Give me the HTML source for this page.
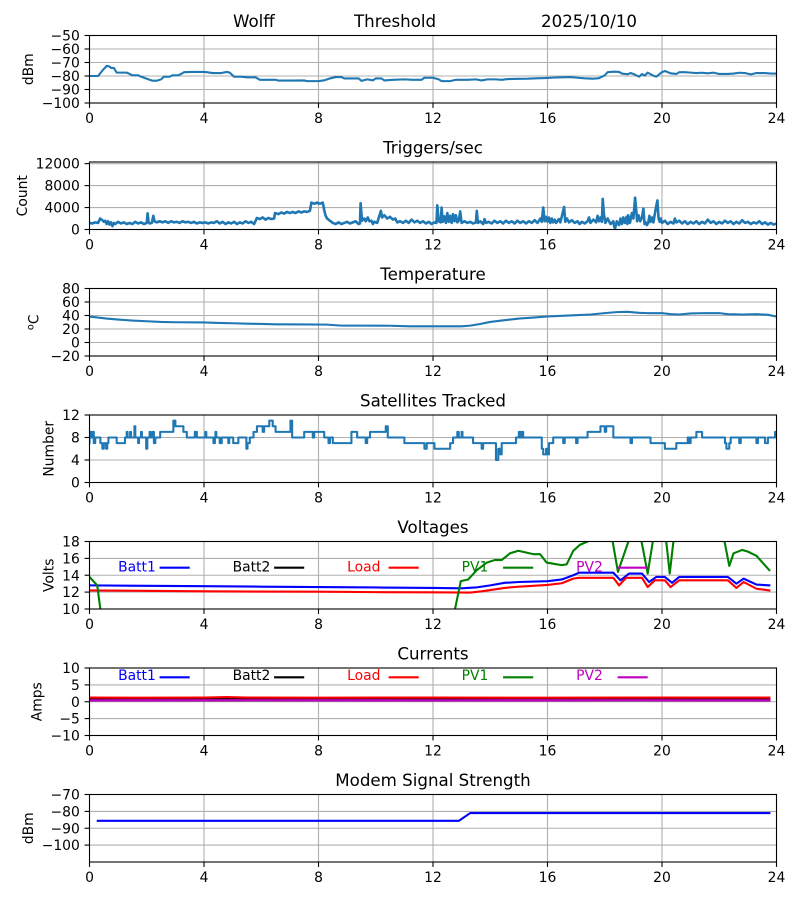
<!DOCTYPE html>
<html><head><meta charset="utf-8">
<style>
html,body{margin:0;padding:0;background:#fff;}
svg{display:block;}
text{font-family:"DejaVu Sans","Liberation Sans",sans-serif;font-size:13.89px;fill:#000;}
.t{font-size:16.67px;}
.g{stroke:#b0b0b0;stroke-width:1.1;fill:none;}
.sp{stroke:#000;stroke-width:1.1;fill:none;}
.tk{stroke:#000;stroke-width:1.1;}
.d{fill:none;stroke-linejoin:round;stroke-linecap:square;vector-effect:non-scaling-stroke;}
.yl{text-anchor:end;}
.xl{text-anchor:middle;}
</style></head><body>
<svg width="800" height="900" viewBox="0 0 800 900" xmlns="http://www.w3.org/2000/svg">
<defs>
<clipPath id="c1"><rect x="89.5" y="35.5" width="687" height="67.5"/></clipPath>
<clipPath id="c2"><rect x="89.5" y="162" width="687" height="67.5"/></clipPath>
<clipPath id="c3"><rect x="89.5" y="288.5" width="687" height="67.5"/></clipPath>
<clipPath id="c4"><rect x="89.5" y="415" width="687" height="67.5"/></clipPath>
<clipPath id="c5"><rect x="89.5" y="541.5" width="687" height="67.5"/></clipPath>
<clipPath id="c6"><rect x="89.5" y="668" width="687" height="67.5"/></clipPath>
<clipPath id="c7"><rect x="89.5" y="794.5" width="687" height="67.5"/></clipPath>
<g id="vg">
<line class="g" x1="204" y1="0" x2="204" y2="67.5"/>
<line class="g" x1="318.5" y1="0" x2="318.5" y2="67.5"/>
<line class="g" x1="433" y1="0" x2="433" y2="67.5"/>
<line class="g" x1="547.5" y1="0" x2="547.5" y2="67.5"/>
<line class="g" x1="662" y1="0" x2="662" y2="67.5"/>
</g>
<g id="xt">
<line class="tk" x1="89.5" y1="0" x2="89.5" y2="4.9"/>
<line class="tk" x1="204" y1="0" x2="204" y2="4.9"/>
<line class="tk" x1="318.5" y1="0" x2="318.5" y2="4.9"/>
<line class="tk" x1="433" y1="0" x2="433" y2="4.9"/>
<line class="tk" x1="547.5" y1="0" x2="547.5" y2="4.9"/>
<line class="tk" x1="662" y1="0" x2="662" y2="4.9"/>
<line class="tk" x1="776.5" y1="0" x2="776.5" y2="4.9"/>
</g>
</defs>

<!-- ===== Panel 1 ===== -->
<text class="t" x="233" y="27.2">Wolff</text>
<text class="t" x="354" y="27.2">Threshold</text>
<text class="t" x="541" y="27.2">2025/10/10</text>
<use href="#vg" y="35.5"/>
<line class="g" x1="89.5" y1="49" x2="776.5" y2="49"/>
<line class="g" x1="89.5" y1="62.5" x2="776.5" y2="62.5"/>
<line class="g" x1="89.5" y1="76" x2="776.5" y2="76"/>
<line class="g" x1="89.5" y1="89.5" x2="776.5" y2="89.5"/>
<g clip-path="url(#c1)"><g transform="translate(89.5,103) scale(28.625,-1.35) translate(0,100)">
<polyline class="d" stroke="#1f77b4" stroke-width="2.1" points="0,-80 0.3,-80 0.45,-76 0.6,-72.5 0.7,-73 0.75,-74 0.85,-74 0.95,-77.5 1.1,-77.5 1.3,-77.5 1.4,-78.5 1.5,-79.5 1.7,-79.5 1.8,-80.5 2.0,-82 2.2,-83.5 2.35,-83.5 2.5,-82.5 2.6,-80.5 2.8,-80.5 2.9,-79.5 3.1,-79.5 3.2,-78.5 3.3,-77.2 3.6,-77 4.0,-77 4.1,-77.2 4.3,-77.8 4.6,-77.8 4.8,-77 4.9,-77.5 5.05,-80.5 5.3,-80.5 5.5,-81 5.8,-81 5.95,-82.8 6.5,-82.8 6.6,-83.4 7.0,-83.4 7.5,-83.3 7.6,-83.8 8.0,-83.8 8.2,-83.2 8.4,-81.8 8.6,-80.8 8.8,-80.8 8.9,-81.8 9.2,-81.8 9.4,-81.8 9.5,-83.6 9.7,-82.5 9.9,-83.2 10.0,-81.8 10.2,-81.8 10.3,-83.3 10.6,-82.8 11.0,-82.5 11.3,-82.8 11.6,-82.8 11.7,-81.3 12.0,-81.3 12.2,-82.5 12.3,-83.8 12.6,-83.8 12.8,-82.8 13.2,-82.8 13.5,-82.5 13.7,-83.3 13.9,-82.5 14.2,-82.5 14.4,-82.8 14.6,-82.3 15.0,-82.1 15.3,-82 15.6,-81.7 15.9,-81.5 16.2,-81.2 16.5,-81 16.8,-80.8 17.0,-81.2 17.3,-81.7 17.6,-82.0 17.8,-81.6 18.0,-79.5 18.1,-77.2 18.3,-76.8 18.5,-77 18.6,-78.2 18.8,-78.7 18.9,-77.8 19.0,-78.5 19.1,-79.5 19.2,-80.5 19.3,-78.6 19.4,-79.7 19.5,-77.5 19.7,-79.8 19.8,-80.5 20.0,-77.1 20.1,-76.3 20.3,-78 20.5,-78.5 20.6,-77.2 20.8,-77.2 21.0,-77.5 21.2,-77.8 21.4,-77.6 21.6,-78 21.8,-77.5 22.0,-78.5 22.3,-78.5 22.5,-78.2 22.7,-77.6 22.9,-77.8 23.1,-78.8 23.3,-77.8 23.6,-77.8 23.8,-78.2 24,-78.2"/>
</g></g>
<rect class="sp" x="89.5" y="35.5" width="687" height="67.5"/>
<use href="#xt" y="103"/>
<line class="tk" x1="84.6" y1="35.5" x2="89.5" y2="35.5"/><line class="tk" x1="84.6" y1="49" x2="89.5" y2="49"/><line class="tk" x1="84.6" y1="62.5" x2="89.5" y2="62.5"/><line class="tk" x1="84.6" y1="76" x2="89.5" y2="76"/><line class="tk" x1="84.6" y1="89.5" x2="89.5" y2="89.5"/><line class="tk" x1="84.6" y1="103" x2="89.5" y2="103"/>
<text class="yl" x="79.8" y="40.5">−50</text><text class="yl" x="79.8" y="54">−60</text><text class="yl" x="79.8" y="67.5">−70</text><text class="yl" x="79.8" y="81">−80</text><text class="yl" x="79.8" y="94.5">−90</text><text class="yl" x="79.8" y="108">−100</text>
<text class="xl" x="89.5" y="123">0</text><text class="xl" x="204" y="123">4</text><text class="xl" x="318.5" y="123">8</text><text class="xl" x="433" y="123">12</text><text class="xl" x="547.5" y="123">16</text><text class="xl" x="662" y="123">20</text><text class="xl" x="776.5" y="123">24</text>
<text transform="translate(33,69.25) rotate(-90)" text-anchor="middle">dBm</text>

<!-- ===== Panel 2 ===== -->
<text class="t" x="433" y="153.7" text-anchor="middle">Triggers/sec</text>
<use href="#vg" y="162"/>
<line class="g" x1="89.5" y1="163.65" x2="776.5" y2="163.65"/>
<line class="g" x1="89.5" y1="185.6" x2="776.5" y2="185.6"/>
<line class="g" x1="89.5" y1="207.55" x2="776.5" y2="207.55"/>
<g clip-path="url(#c2)"><g transform="translate(89.5,229.5) scale(28.625,-5.4878)">
<polyline class="d" stroke="#1f77b4" stroke-width="2.6" points="0,1.2 0.1,1.1 0.2,1.3 0.3,1.2 0.37,2.0 0.45,1.7 0.5,1.4 0.55,1.6 0.6,1.0 0.65,1.5 0.7,0.9 0.75,1.3 0.8,0.6 0.85,1.2 0.9,1.0 1.0,1.4 1.1,1.1 1.2,1.3 1.3,1.0 1.4,1.2 1.5,1.0 1.6,1.4 1.7,1.1 1.8,1.3 1.9,1.0 2.0,1.2 2.03,2.95 2.06,1.4 2.1,1.1 2.18,1.2 2.23,2.5 2.27,1.5 2.35,1.3 2.45,1.5 2.55,1.3 2.65,1.5 2.75,1.2 2.85,1.5 2.95,1.3 3.05,1.4 3.15,1.2 3.25,1.5 3.35,1.3 3.45,1.4 3.55,1.2 3.65,1.4 3.75,1.1 3.85,1.3 3.95,1.2 4.05,1.3 4.15,1.1 4.25,1.3 4.35,1.2 4.45,1.5 4.55,1.1 4.65,1.4 4.75,1.0 4.85,1.3 4.95,1.1 5.05,1.4 5.15,1.0 5.25,1.3 5.35,1.1 5.45,1.5 5.55,1.2 5.65,1.4 5.75,1.0 5.85,2.1 5.95,1.9 6.05,2.2 6.15,1.8 6.25,2.1 6.35,1.9 6.45,2.0 6.48,3.0 6.6,2.8 6.7,3.1 6.8,2.9 6.9,3.2 7.0,3.0 7.1,3.2 7.2,3.0 7.3,3.3 7.4,3.1 7.5,3.3 7.6,3.2 7.7,3.4 7.75,4.9 7.85,4.7 7.95,4.9 8.05,4.7 8.15,4.9 8.2,3.5 8.25,2.5 8.3,2.0 8.4,1.6 8.5,1.2 8.6,1.0 8.7,1.3 8.8,1.0 8.9,1.2 9.0,1.4 9.1,1.1 9.2,1.3 9.3,1.5 9.4,1.0 9.45,1.1 9.47,4.8 9.52,1.6 9.6,2.0 9.65,1.5 9.72,2.2 9.78,1.5 9.85,1.6 9.9,1.0 9.95,1.4 10.05,1.2 10.18,3.4 10.22,2.2 10.3,2.6 10.4,2.0 10.5,2.3 10.6,1.8 10.68,2.0 10.75,1.3 10.85,1.5 10.95,1.2 11.05,1.6 11.15,1.2 11.25,1.8 11.35,1.3 11.45,1.6 11.55,1.2 11.65,1.5 11.75,1.1 11.85,1.4 11.95,1.0 12.05,1.3 12.12,1.2 12.15,4.4 12.2,1.5 12.27,1.3 12.3,4.0 12.34,1.4 12.4,2.4 12.45,1.2 12.5,3.0 12.55,1.4 12.6,2.5 12.65,1.2 12.7,2.8 12.75,1.5 12.8,2.6 12.85,1.3 12.9,1.6 12.95,3.3 13.0,1.2 13.1,1.5 13.2,1.2 13.3,1.4 13.4,1.1 13.5,1.3 13.53,3.4 13.57,1.2 13.65,1.5 13.75,1.0 13.8,1.9 13.85,1.2 13.95,1.4 14.05,1.1 14.15,1.6 14.25,1.2 14.35,1.5 14.45,1.1 14.55,1.6 14.65,1.2 14.75,1.5 14.85,1.1 14.95,1.6 15.05,1.2 15.15,1.5 15.25,1.1 15.35,1.5 15.45,1.2 15.55,1.7 15.65,1.2 15.75,2.0 15.8,1.4 15.85,4.0 15.9,1.5 15.95,2.3 16.0,1.4 16.05,2.2 16.1,1.2 16.15,2.0 16.2,1.3 16.25,1.8 16.3,1.2 16.4,1.9 16.45,1.3 16.58,4.1 16.62,1.4 16.68,2.0 16.75,1.3 16.85,1.7 16.95,1.2 17.05,1.5 17.12,1.0 17.2,1.4 17.3,1.1 17.4,1.5 17.45,2.2 17.5,1.2 17.6,1.8 17.7,1.3 17.75,2.5 17.8,1.5 17.85,2.2 17.9,1.4 17.93,5.6 17.97,2.8 18.02,1.2 18.1,2.0 18.2,1.0 18.3,1.5 18.33,0.5 18.36,0.2 18.42,1.5 18.5,0.8 18.55,2.0 18.6,1.0 18.65,2.2 18.7,1.2 18.76,2.3 18.79,1.0 18.82,2.6 18.88,1.2 18.95,3.0 19.0,2.0 19.06,5.8 19.1,3.5 19.13,1.5 19.18,2.6 19.24,1.5 19.3,2.2 19.35,3.8 19.39,1.0 19.43,1.3 19.47,0.8 19.52,1.2 19.56,2.5 19.6,1.4 19.65,2.2 19.7,1.3 19.77,3.5 19.84,5.3 19.88,2.0 19.92,1.4 19.96,2.0 20.0,1.2 20.1,1.6 20.2,1.0 20.3,1.4 20.4,1.1 20.45,2.0 20.5,1.3 20.6,1.6 20.7,1.1 20.8,1.5 20.9,1.0 21.0,1.4 21.1,1.1 21.2,1.5 21.3,1.0 21.4,1.4 21.5,1.1 21.6,1.8 21.7,1.2 21.8,1.5 21.9,1.0 22.0,1.4 22.1,1.1 22.2,1.6 22.3,1.2 22.4,1.5 22.5,1.0 22.6,1.4 22.7,1.1 22.8,1.7 22.9,1.2 23.0,1.4 23.1,1.0 23.2,1.3 23.3,1.1 23.4,1.5 23.5,1.0 23.6,1.3 23.7,0.9 23.8,1.2 23.9,0.9 24,1.1"/>
</g></g>
<rect class="sp" x="89.5" y="162" width="687" height="67.5"/>
<use href="#xt" y="229.5"/>
<line class="tk" x1="84.6" y1="163.65" x2="89.5" y2="163.65"/><line class="tk" x1="84.6" y1="185.6" x2="89.5" y2="185.6"/><line class="tk" x1="84.6" y1="207.55" x2="89.5" y2="207.55"/><line class="tk" x1="84.6" y1="229.5" x2="89.5" y2="229.5"/>
<text class="yl" x="79.8" y="168.65">12000</text><text class="yl" x="79.8" y="190.6">8000</text><text class="yl" x="79.8" y="212.55">4000</text><text class="yl" x="79.8" y="234.5">0</text>
<text class="xl" x="89.5" y="249.5">0</text><text class="xl" x="204" y="249.5">4</text><text class="xl" x="318.5" y="249.5">8</text><text class="xl" x="433" y="249.5">12</text><text class="xl" x="547.5" y="249.5">16</text><text class="xl" x="662" y="249.5">20</text><text class="xl" x="776.5" y="249.5">24</text>
<text transform="translate(27,195.75) rotate(-90)" text-anchor="middle">Count</text>

<!-- ===== Panel 3 ===== -->
<text class="t" x="433" y="280.2" text-anchor="middle">Temperature</text>
<use href="#vg" y="288.5"/>
<line class="g" x1="89.5" y1="302" x2="776.5" y2="302"/>
<line class="g" x1="89.5" y1="315.5" x2="776.5" y2="315.5"/>
<line class="g" x1="89.5" y1="329" x2="776.5" y2="329"/>
<line class="g" x1="89.5" y1="342.5" x2="776.5" y2="342.5"/>
<g clip-path="url(#c3)"><g transform="translate(89.5,356) scale(28.625,-0.675) translate(0,20)">
<polyline class="d" stroke="#1f77b4" stroke-width="2.1" points="0,38.5 0.3,37 0.6,35.5 1,34 1.5,32.5 2,31.5 2.5,30.5 3,30 4,29.7 4.5,29 5,28.5 5.5,27.8 6,27.5 6.5,27 7.5,26.8 8.3,26.5 8.8,25 9.5,25 10.5,24.8 11.2,24 12,24 13,24 13.3,25 13.6,27 14,30.5 14.5,33 15,35.5 15.5,37 16,38.5 16.5,39.5 17,40.5 17.5,41.5 18,43.5 18.4,45 18.8,45.5 19.2,44 19.5,43.5 20,43.5 20.3,42 20.6,41.5 21,43 21.5,43.5 22,43.5 22.3,42 22.8,41.5 23.3,42 23.7,41 24,38.5"/>
</g></g>
<rect class="sp" x="89.5" y="288.5" width="687" height="67.5"/>
<use href="#xt" y="356"/>
<line class="tk" x1="84.6" y1="288.5" x2="89.5" y2="288.5"/><line class="tk" x1="84.6" y1="302" x2="89.5" y2="302"/><line class="tk" x1="84.6" y1="315.5" x2="89.5" y2="315.5"/><line class="tk" x1="84.6" y1="329" x2="89.5" y2="329"/><line class="tk" x1="84.6" y1="342.5" x2="89.5" y2="342.5"/><line class="tk" x1="84.6" y1="356" x2="89.5" y2="356"/>
<text class="yl" x="79.8" y="293.5">80</text><text class="yl" x="79.8" y="307">60</text><text class="yl" x="79.8" y="320.5">40</text><text class="yl" x="79.8" y="334">20</text><text class="yl" x="79.8" y="347.5">0</text><text class="yl" x="79.8" y="361">−20</text>
<text class="xl" x="89.5" y="376">0</text><text class="xl" x="204" y="376">4</text><text class="xl" x="318.5" y="376">8</text><text class="xl" x="433" y="376">12</text><text class="xl" x="547.5" y="376">16</text><text class="xl" x="662" y="376">20</text><text class="xl" x="776.5" y="376">24</text>
<text transform="translate(38.7,322.25) rotate(-90)" text-anchor="middle"><tspan style="font-size:9.7px" dy="-5">o</tspan><tspan dy="5">C</tspan></text>

<!-- ===== Panel 4 ===== -->
<text class="t" x="433" y="406.7" text-anchor="middle">Satellites Tracked</text>
<use href="#vg" y="415"/>
<line class="g" x1="89.5" y1="437.5" x2="776.5" y2="437.5"/>
<line class="g" x1="89.5" y1="460" x2="776.5" y2="460"/>
<g clip-path="url(#c4)"><g transform="translate(89.5,482.5) scale(28.625,-5.625)">
<path class="d" stroke="#1f77b4" stroke-width="2.1" d="M0 7 V9 H0.05 V8 H0.1 V9 H0.15 V7 H0.2 V8 H0.38 V7 H0.45 V6 H0.5 V7 H0.58 V6 H0.62 V7 H0.66 V8 H0.95 V7 H1.24 V8 H1.3 V9 H1.33 V8 H1.42 V9 H1.45 V8 H1.57 V10 H1.6 V8 H1.7 V7 H1.73 V8 H1.8 V9 H1.83 V8 H1.98 V6 H2.02 V8 H2.1 V9 H2.13 V8 H2.2 V9 H2.25 V7 H2.3 V8 H2.47 V9 H2.93 V11 H3.0 V10 H3.28 V9 H3.4 V8 H3.68 V9 H3.75 V8 H4.05 V9 H4.08 V8 H4.33 V7 H4.38 V8 H4.4 V9 H4.43 V8 H4.55 V7 H4.62 V8 H4.85 V7 H4.88 V8 H5.02 V7 H5.2 V8 H5.48 V6 H5.52 V7 H5.6 V8 H5.73 V9 H5.85 V10 H6.05 V9 H6.1 V10 H6.28 V11 H6.4 V10 H6.5 V9 H7.02 V11 H7.08 V8 H7.5 V9 H7.8 V8 H7.85 V9 H8.2 V8 H8.35 V7 H8.4 V8 H8.5 V7 H9.15 V9 H9.35 V8 H9.65 V7 H9.7 V8 H9.8 V9 H10.35 V10 H10.42 V8 H11.0 V7 H11.7 V6 H11.78 V7 H12.05 V6 H12.6 V7 H12.7 V8 H12.85 V9 H12.9 V8 H13.0 V9 H13.03 V8 H13.4 V7 H13.7 V6 H13.75 V7 H14.2 V4 H14.28 V6 H14.35 V5 H14.4 V7 H14.9 V8 H15.0 V9 H15.05 V8 H15.1 V9 H15.15 V8 H15.8 V6 H15.85 V5 H15.95 V6 H16.0 V5 H16.05 V7 H16.2 V8 H16.55 V7 H16.6 V8 H17.0 V7 H17.05 V8 H17.4 V9 H17.85 V10 H18.0 V9 H18.05 V10 H18.3 V8 H18.9 V7 H18.95 V8 H19.6 V7 H20.1 V6 H20.5 V7 H20.9 V8 H20.95 V7 H21.0 V8 H21.2 V9 H21.4 V8 H22.2 V7 H22.25 V6 H22.35 V7 H22.4 V8 H22.7 V7 H22.75 V8 H23.3 V7 H23.35 V8 H23.6 V7 H23.7 V8 H23.95 V9 H24"/>
</g></g>
<rect class="sp" x="89.5" y="415" width="687" height="67.5"/>
<use href="#xt" y="482.5"/>
<line class="tk" x1="84.6" y1="415" x2="89.5" y2="415"/><line class="tk" x1="84.6" y1="437.5" x2="89.5" y2="437.5"/><line class="tk" x1="84.6" y1="460" x2="89.5" y2="460"/><line class="tk" x1="84.6" y1="482.5" x2="89.5" y2="482.5"/>
<text class="yl" x="79.8" y="420">12</text><text class="yl" x="79.8" y="442.5">8</text><text class="yl" x="79.8" y="465">4</text><text class="yl" x="79.8" y="487.5">0</text>
<text class="xl" x="89.5" y="502.5">0</text><text class="xl" x="204" y="502.5">4</text><text class="xl" x="318.5" y="502.5">8</text><text class="xl" x="433" y="502.5">12</text><text class="xl" x="547.5" y="502.5">16</text><text class="xl" x="662" y="502.5">20</text><text class="xl" x="776.5" y="502.5">24</text>
<text transform="translate(53.3,448.75) rotate(-90)" text-anchor="middle">Number</text>

<!-- ===== Panel 5 ===== -->
<text class="t" x="433" y="533.2" text-anchor="middle">Voltages</text>
<use href="#vg" y="541.5"/>
<line class="g" x1="89.5" y1="558.4" x2="776.5" y2="558.4"/>
<line class="g" x1="89.5" y1="575.25" x2="776.5" y2="575.25"/>
<line class="g" x1="89.5" y1="592.1" x2="776.5" y2="592.1"/>
<g clip-path="url(#c5)"><g transform="translate(89.5,609) scale(28.625,-8.4375) translate(0,-10)">
<polyline class="d" stroke="#0000ff" stroke-width="2.1" points="0,12.8 2,12.75 4,12.7 6,12.65 8,12.6 10,12.55 12,12.5 13,12.45 13.5,12.55 14,12.8 14.5,13.1 15,13.2 16,13.3 16.5,13.5 16.9,14.0 17.1,14.3 18.3,14.3 18.55,13.4 18.85,14.2 19.3,14.2 19.55,13.2 19.8,13.8 20.1,13.8 20.35,13.1 20.6,13.8 22.3,13.8 22.6,13.0 22.85,13.6 23.3,12.9 23.75,12.8"/>
<polyline class="d" stroke="#ff0000" stroke-width="2.1" points="0,12.2 4,12.1 5,12.08 8,12.05 10,12.0 12,11.98 13.3,11.95 13.7,12.1 14.5,12.5 15,12.65 16,12.85 16.5,13.05 16.9,13.6 17.1,13.7 18.3,13.7 18.5,12.8 18.75,13.7 19.3,13.7 19.5,12.6 19.75,13.4 20.1,13.4 20.3,12.6 20.6,13.4 22.3,13.4 22.6,12.5 22.85,13.2 23.3,12.4 23.75,12.2"/>
<polyline class="d" stroke="#008000" stroke-width="2.1" points="0,13.8 0.27,12.8 0.5,6.9 1,5 12.6,5 12.77,10 12.97,13.3 13.23,13.5 13.53,14.6 13.88,15.5 14.15,15.8 14.4,15.8 14.69,16.6 14.98,16.9 15.5,16.5 15.74,16.5 15.97,15.5 16.32,15.3 16.5,15.2 16.67,15.3 16.9,16.9 17.13,17.6 17.4,18.0 17.8,19.5 18.2,19.5 18.46,14.4 18.98,19.5 19.2,19.5 19.5,14.2 19.75,19.5 20.1,19.5 20.27,14.2 20.45,19.5 22.1,19.5 22.35,15.1 22.5,16.6 22.8,17.0 23.0,16.8 23.3,16.3 23.75,14.6"/>
</g></g>
<rect class="sp" x="89.5" y="541.5" width="687" height="67.5"/>
<use href="#xt" y="609"/>
<line class="tk" x1="84.6" y1="541.5" x2="89.5" y2="541.5"/><line class="tk" x1="84.6" y1="558.4" x2="89.5" y2="558.4"/><line class="tk" x1="84.6" y1="575.25" x2="89.5" y2="575.25"/><line class="tk" x1="84.6" y1="592.1" x2="89.5" y2="592.1"/><line class="tk" x1="84.6" y1="609" x2="89.5" y2="609"/>
<text class="yl" x="79.8" y="546.5">18</text><text class="yl" x="79.8" y="563.4">16</text><text class="yl" x="79.8" y="580.25">14</text><text class="yl" x="79.8" y="597.1">12</text><text class="yl" x="79.8" y="614">10</text>
<text class="xl" x="89.5" y="629">0</text><text class="xl" x="204" y="629">4</text><text class="xl" x="318.5" y="629">8</text><text class="xl" x="433" y="629">12</text><text class="xl" x="547.5" y="629">16</text><text class="xl" x="662" y="629">20</text><text class="xl" x="776.5" y="629">24</text>
<text transform="translate(53.3,575.25) rotate(-90)" text-anchor="middle">Volts</text>
<text x="118.1" y="571.7" style="fill:#0000ff">Batt1</text><line x1="159.6" y1="567.7" x2="189.7" y2="567.7" stroke="#0000ff" stroke-width="2.1"/>
<text x="232.6" y="571.7" style="fill:#000">Batt2</text><line x1="274.1" y1="567.7" x2="304.2" y2="567.7" stroke="#000" stroke-width="2.1"/>
<text x="347.1" y="571.7" style="fill:#ff0000">Load</text><line x1="388.6" y1="567.7" x2="418.7" y2="567.7" stroke="#ff0000" stroke-width="2.1"/>
<text x="461.6" y="571.7" style="fill:#008000">PV1</text><line x1="503.1" y1="567.7" x2="533.2" y2="567.7" stroke="#008000" stroke-width="2.1"/>
<text x="576.1" y="571.7" style="fill:#bf00bf">PV2</text><line x1="617.6" y1="567.7" x2="647.7" y2="567.7" stroke="#bf00bf" stroke-width="2.1"/>

<!-- ===== Panel 6 ===== -->
<text class="t" x="433" y="659.7" text-anchor="middle">Currents</text>
<use href="#vg" y="668"/>
<line class="g" x1="89.5" y1="684.9" x2="776.5" y2="684.9"/>
<line class="g" x1="89.5" y1="701.75" x2="776.5" y2="701.75"/>
<line class="g" x1="89.5" y1="718.6" x2="776.5" y2="718.6"/>
<g clip-path="url(#c6)"><g transform="translate(89.5,735.5) scale(28.625,-3.375) translate(0,10)">
<polyline class="d" stroke="#0000ff" stroke-width="2.1" points="0,0.6 6,0.62 12,0.6 18,0.62 23.75,0.6"/>
<polyline class="d" stroke="#000000" stroke-width="2.1" points="0,0.85 5,0.9 10,0.85 15,0.88 20,0.86 23.75,0.85"/>
<polyline class="d" stroke="#ff0000" stroke-width="2.1" points="0,1.25 2,1.2 4,1.25 4.8,1.4 5.5,1.25 8,1.2 12,1.25 16,1.2 20,1.25 23.75,1.25"/>
<polyline class="d" stroke="#008000" stroke-width="2.1" points="0,0.35 23.75,0.35"/>
<polyline class="d" stroke="#bf00bf" stroke-width="2.4" points="0,0.4 6,0.42 12,0.4 18,0.42 23.75,0.4"/>
</g></g>
<rect class="sp" x="89.5" y="668" width="687" height="67.5"/>
<use href="#xt" y="735.5"/>
<line class="tk" x1="84.6" y1="668" x2="89.5" y2="668"/><line class="tk" x1="84.6" y1="684.9" x2="89.5" y2="684.9"/><line class="tk" x1="84.6" y1="701.75" x2="89.5" y2="701.75"/><line class="tk" x1="84.6" y1="718.6" x2="89.5" y2="718.6"/><line class="tk" x1="84.6" y1="735.5" x2="89.5" y2="735.5"/>
<text class="yl" x="79.8" y="673">10</text><text class="yl" x="79.8" y="689.9">5</text><text class="yl" x="79.8" y="706.75">0</text><text class="yl" x="79.8" y="723.6">−5</text><text class="yl" x="79.8" y="740.5">−10</text>
<text class="xl" x="89.5" y="755.5">0</text><text class="xl" x="204" y="755.5">4</text><text class="xl" x="318.5" y="755.5">8</text><text class="xl" x="433" y="755.5">12</text><text class="xl" x="547.5" y="755.5">16</text><text class="xl" x="662" y="755.5">20</text><text class="xl" x="776.5" y="755.5">24</text>
<text transform="translate(41.5,701.75) rotate(-90)" text-anchor="middle">Amps</text>
<text x="118.1" y="680" style="fill:#0000ff">Batt1</text><line x1="159.6" y1="677.3" x2="189.7" y2="677.3" stroke="#0000ff" stroke-width="2.1"/>
<text x="232.6" y="680" style="fill:#000">Batt2</text><line x1="274.1" y1="677.3" x2="304.2" y2="677.3" stroke="#000" stroke-width="2.1"/>
<text x="347.1" y="680" style="fill:#ff0000">Load</text><line x1="388.6" y1="677.3" x2="418.7" y2="677.3" stroke="#ff0000" stroke-width="2.1"/>
<text x="461.6" y="680" style="fill:#008000">PV1</text><line x1="503.1" y1="677.3" x2="533.2" y2="677.3" stroke="#008000" stroke-width="2.1"/>
<text x="576.1" y="680" style="fill:#bf00bf">PV2</text><line x1="617.6" y1="677.3" x2="647.7" y2="677.3" stroke="#bf00bf" stroke-width="2.1"/>

<!-- ===== Panel 7 ===== -->
<text class="t" x="433" y="786.2" text-anchor="middle">Modem Signal Strength</text>
<use href="#vg" y="794.5"/>
<line class="g" x1="89.5" y1="811.4" x2="776.5" y2="811.4"/>
<line class="g" x1="89.5" y1="828.25" x2="776.5" y2="828.25"/>
<line class="g" x1="89.5" y1="845.1" x2="776.5" y2="845.1"/>
<g clip-path="url(#c7)"><g transform="translate(89.5,862) scale(28.625,-1.6875) translate(0,110)">
<polyline class="d" stroke="#0000ff" stroke-width="2.1" points="0.29,-85.6 12.9,-85.6 13.3,-81 23.75,-81"/>
</g></g>
<rect class="sp" x="89.5" y="794.5" width="687" height="67.5"/>
<use href="#xt" y="862"/>
<line class="tk" x1="84.6" y1="794.5" x2="89.5" y2="794.5"/><line class="tk" x1="84.6" y1="811.4" x2="89.5" y2="811.4"/><line class="tk" x1="84.6" y1="828.25" x2="89.5" y2="828.25"/><line class="tk" x1="84.6" y1="845.1" x2="89.5" y2="845.1"/>
<text class="yl" x="79.8" y="799.5">−70</text><text class="yl" x="79.8" y="816.4">−80</text><text class="yl" x="79.8" y="833.25">−90</text><text class="yl" x="79.8" y="850.1">−100</text>
<text class="xl" x="89.5" y="882">0</text><text class="xl" x="204" y="882">4</text><text class="xl" x="318.5" y="882">8</text><text class="xl" x="433" y="882">12</text><text class="xl" x="547.5" y="882">16</text><text class="xl" x="662" y="882">20</text><text class="xl" x="776.5" y="882">24</text>
<text transform="translate(33,828.25) rotate(-90)" text-anchor="middle">dBm</text>
</svg>
</body></html>
